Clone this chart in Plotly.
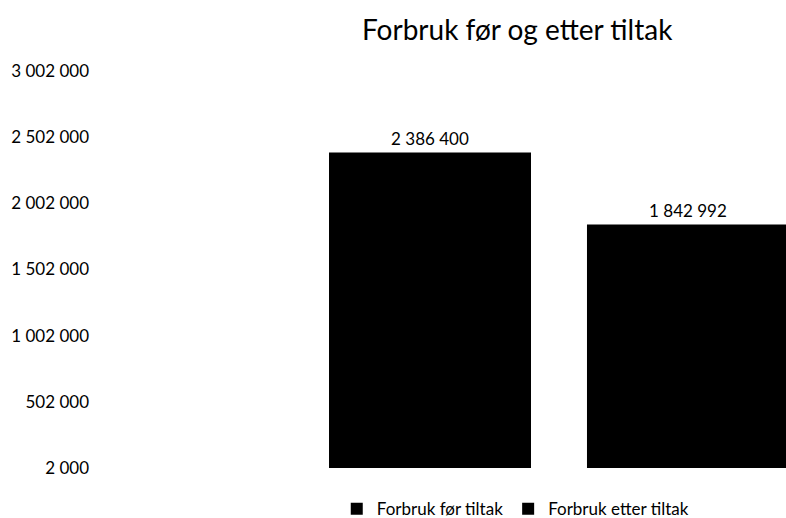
import plotly.graph_objects as go

series_names = ["Forbruk før tiltak", "Forbruk etter tiltak"]
values = [2386400, 1842992]
value_labels = ["2 386 400", "1 842 992"]
category = [""]
tick_values = [2000, 502000, 1002000, 1502000, 2002000, 2502000, 3002000]
tick_labels = ["2 000", "502 000", "1 002 000", "1 502 000", "2 002 000", "2 502 000", "3 002 000"]

FONT = "Lato, Open Sans, sans-serif"

fig = go.Figure()
for name, v, lab in zip(series_names, values, value_labels):
    fig.add_trace(go.Bar(
        name=name, x=category, y=[v], text=[lab], textposition="outside",
        marker=dict(color="black", line=dict(width=0)),
        textfont=dict(size=17, color="black", family=FONT),
        cliponaxis=False,
    ))

fig.update_layout(
    width=786, height=518,
    margin=dict(l=90, r=0, t=71, b=50),
    paper_bgcolor="white", plot_bgcolor="white",
    barmode="group", bargap=0.0, bargroupgap=0.217,
    font=dict(family=FONT, size=17, color="black"),
    title=dict(text="Forbruk før og etter tiltak", x=0.658, xref="container", xanchor="center",
               y=0.942, yref="container", yanchor="middle",
               font=dict(size=28, family=FONT, color="black")),
    showlegend=True,
    legend=dict(orientation="h", x=0.611, xref="paper", xanchor="center",
                y=0.017, yref="container", yanchor="middle",
                font=dict(size=17, family=FONT, color="black"), itemwidth=30,
                bgcolor="rgba(0,0,0,0)"),
    xaxis=dict(range=[-0.909, 0.44], showticklabels=False, showgrid=False, zeroline=False,
               showline=False, ticks=""),
    yaxis=dict(range=[2000, 3002000], tickvals=tick_values, ticktext=tick_labels,
               showgrid=False, zeroline=False, showline=False, ticks="",
               tickfont=dict(size=17, family=FONT, color="black")),
)

fig.write_html("out.html")
